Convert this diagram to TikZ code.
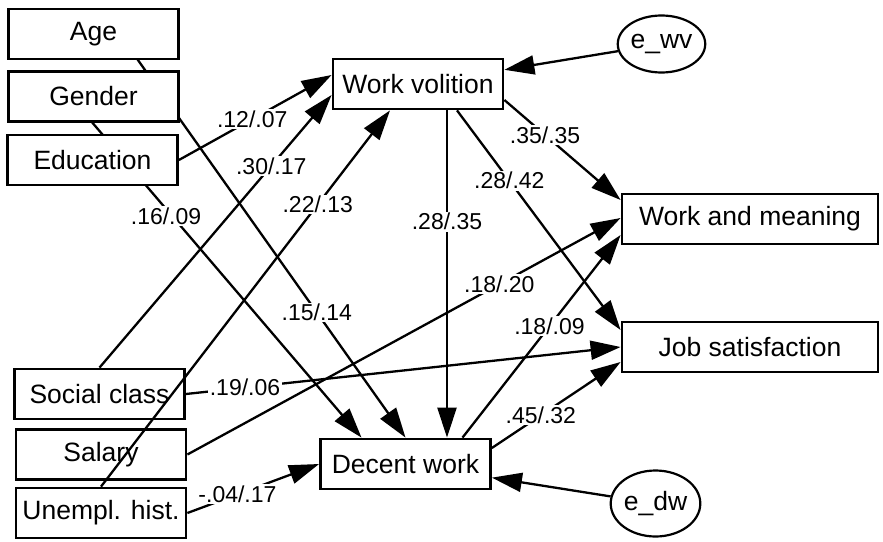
\documentclass[tikz,border=0pt]{standalone}
\usepackage{fontspec}
\setmainfont{Liberation Sans}
\usetikzlibrary{arrows.meta,shapes.geometric,backgrounds}
\tikzset{
  box/.style={draw, line width=2.8pt, fill=white, minimum width=170pt,
    minimum height=50pt, inner sep=0pt, font=\fontsize{26.5}{30}\selectfont},
  err/.style={draw, ellipse, line width=2.2pt, fill=white, inner sep=0pt,
    font=\fontsize{26.5}{30}\selectfont},
  arr/.style={line width=2.3pt, -{Triangle[length=30pt,width=19pt]}},
  coef/.style={fill=white, inner sep=1.5pt, font=\fontsize{23}{26}\selectfont}
}
\begin{document}
\begin{tikzpicture}[x=1pt,y=-1pt]
  \useasboundingbox (0,0) rectangle (883,541);

  % observed predictors
  \node[box] (age) at (93.5,34) {Age};
  \node[box] (gender) at (93.5,96.5) {Gender};
  \node[box] (edu) at (92.5,160) {Education};
  \node[box] (sc) at (99.5,394) {Social class};
  \node[box] (sal) at (101,454.5) {Salary};
  \node[box] (unemp) at (101,513) {Unempl. hist.};

  % mediators and outcomes
  \node[box] (wv) at (418,84) {Work volition};
  \node[box] (dw) at (405.5,464) {Decent work};
  \node[box, minimum width=256pt] (wm) at (750,219) {Work and meaning};
  \node[box, minimum width=256pt] (js) at (750,347) {Job satisfaction};

  % error terms
  \node[err, minimum width=82pt, minimum height=57pt] (ewv) at (661.5,44) {e\_wv};
  \node[err, minimum width=85pt, minimum height=66pt] (edw) at (655.5,503.5) {e\_dw};

  \begin{pgfonlayer}{background}
    \draw[arr] ([xshift=26pt]age.center) -- node[coef,pos=0.69] {.15/.14} (dw.north);
    \draw[arr] ([xshift=-23.5pt]gender.center) -- node[coef,pos=0.35,xshift=-6pt] {.16/.09} ([xshift=-44pt]dw.north);
  \end{pgfonlayer}

  \draw[arr] (edu.east) -- node[coef,pos=0.48] {.12/.07} ([yshift=9pt]wv.west);
  \draw[arr] (sc.north) -- node[coef,pos=0.74] {.30/.17} ([yshift=-11pt]wv.west);
  \draw[arr] (unemp.north) -- node[coef,pos=0.75] {.22/.13} ([xshift=-28pt]wv.south);

  \draw[arr] ([xshift=29pt]wv.south) -- node[coef,pos=0.34] {.28/.35} ([xshift=29pt]wv.south |- dw.north);
  \draw[arr] ([xshift=39pt]wv.south) -- node[coef,pos=0.32] {.28/.42} ([yshift=17pt]js.west);
  \draw[arr] ([yshift=-16pt]wv.east) -- node[coef,pos=0.35] {.35/.35} ([yshift=19pt]wm.west);

  \draw[arr] (sal.east) -- node[coef,pos=0.72] {.18/.20} ([yshift=1pt]wm.west);
  \draw[arr] (sc.east) -- node[coef,pos=0.136] {.19/.06} (js.west);
  \draw[arr] (unemp.east) -- node[coef,pos=0.38] {-.04/.17} (dw.west);

  \draw[arr] ([xshift=57pt]dw.north) -- node[coef,pos=0.55] {.18/.09} ([yshift=-16pt]wm.west);
  \draw[arr] ([yshift=16pt]dw.east) -- node[coef,pos=0.38] {.45/.32} ([yshift=-15pt]js.west);

  \draw[arr] (ewv) -- (wv);
  \draw[arr] (edw) -- (dw);
\end{tikzpicture}
\end{document}
